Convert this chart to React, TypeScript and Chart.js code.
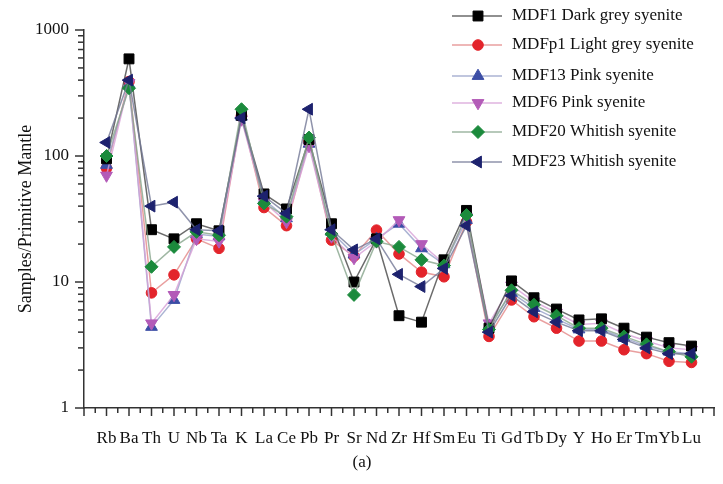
import { useEffect, useRef } from 'react';
import { Chart, registerables } from 'chart.js';

Chart.register(...registerables);

const categories = ['Rb', 'Ba', 'Th', 'U', 'Nb', 'Ta', 'K', 'La', 'Ce', 'Pb', 'Pr', 'Sr', 'Nd', 'Zr', 'Hf', 'Sm', 'Eu', 'Ti', 'Gd', 'Tb', 'Dy', 'Y', 'Ho', 'Er', 'Tm', 'Yb', 'Lu'];

const seriesNames = [
  'MDF1 Dark grey syenite',
  'MDFp1 Light grey syenite',
  'MDF13 Pink syenite',
  'MDF6 Pink syenite',
  'MDF20 Whitish syenite',
  'MDF23 Whitish syenite',
];

const mdf1 = [95, 590, 26, 22, 29, 25.5, 210, 50, 38, 135, 29, 10, 22, 5.4, 4.8, 15, 37, 4.3, 10.2, 7.5, 6.1, 5.0, 5.1, 4.3, 3.65, 3.3, 3.1];
const mdfp1 = [80, 390, 8.2, 11.4, 22, 18.5, 210, 39, 28, 130, 21.5, 16, 25.8, 16.7, 12, 11, 30, 3.7, 7.2, 5.3, 4.3, 3.4, 3.4, 2.9, 2.7, 2.35, 2.3];
const mdf13 = [85, 370, 4.4, 7.2, 24, 23, 205, 45, 32, 125, 25, 16.5, 22, 29, 18.5, 13.8, 31, 4.5, 8.2, 6.2, 5.1, 4.2, 4.2, 3.6, 3.1, 2.8, 2.7];
const mdf6 = [70, 380, 4.7, 7.9, 22, 21, 195, 43, 30, 120, 23, 15.5, 21, 31, 20, 14, 33, 4.7, 9.4, 7.0, 5.7, 4.6, 4.7, 3.9, 3.4, 3.0, 2.9];
const mdf20 = [100, 345, 13.2, 19, 25, 23.5, 235, 42, 33, 140, 24, 7.9, 21, 19, 15, 13.5, 34, 4.2, 8.6, 6.6, 5.4, 4.3, 4.3, 3.7, 3.2, 2.8, 2.55];
const mdf23 = [128, 400, 40, 43, 26, 25.5, 200, 48, 35, 235, 26, 18, 22, 11.5, 9.2, 12.8, 28, 4.0, 7.8, 5.8, 4.8, 4.1, 4.1, 3.5, 3.0, 2.7, 2.7];

const seriesValues = [mdf1, mdfp1, mdf13, mdf6, mdf20, mdf23];
const yTickLabels = [1, 10, 100, 1000];

const pointStyles = ['rect', 'circle', 'triangle', 'triangle', 'rectRot', 'triangle'];
const rotations = [0, 0, 0, 180, 0, 270];
const markerColors = ['#000000', '#e3242b', '#3c4ea6', '#b35bb8', '#1b8a3c', '#1d226e'];
const lineColors = [
  'rgba(70,70,70,0.8)',
  'rgba(228,135,135,0.8)',
  'rgba(150,160,200,0.8)',
  'rgba(215,160,215,0.8)',
  'rgba(135,165,140,0.8)',
  'rgba(115,120,150,0.8)',
];
const radii = [7, 5.3, 6.8, 6.8, 6.5, 6.8];
const drawOrder = [2, 5, 4, 3, 1, 0];
const legendRows = [16, 45, 76, 103, 132, 162];

const SERIF = '"Liberation Serif", "Times New Roman", serif';

function drawMarker(ctx: CanvasRenderingContext2D, style: string, x: number, y: number, r: number, rot: number, color: string) {
  ctx.save();
  ctx.fillStyle = color;
  ctx.strokeStyle = color;
  ctx.lineWidth = 1;
  ctx.beginPath();
  const rad = (rot * Math.PI) / 180;
  if (style === 'rect') {
    const s = Math.SQRT1_2 * r;
    ctx.rect(x - s, y - s, 2 * s, 2 * s);
  } else if (style === 'circle') {
    ctx.arc(x, y, r, 0, Math.PI * 2);
  } else if (style === 'rectRot') {
    ctx.moveTo(x, y - r);
    ctx.lineTo(x + r, y);
    ctx.lineTo(x, y + r);
    ctx.lineTo(x - r, y);
    ctx.closePath();
  } else {
    let a = rad;
    ctx.moveTo(x + Math.sin(a) * r, y - Math.cos(a) * r);
    a += (2 * Math.PI) / 3;
    ctx.lineTo(x + Math.sin(a) * r, y - Math.cos(a) * r);
    a += (2 * Math.PI) / 3;
    ctx.lineTo(x + Math.sin(a) * r, y - Math.cos(a) * r);
    ctx.closePath();
  }
  ctx.fill();
  ctx.stroke();
  ctx.restore();
}

const decorPlugin = {
  id: 'decor',
  afterDraw(chart: any) {
    const ctx: CanvasRenderingContext2D = chart.ctx;
    const xs = chart.scales.x;
    const ys = chart.scales.y;
    const area = chart.chartArea;
    ctx.save();
    ctx.strokeStyle = '#333';
    ctx.lineWidth = 1.5;
    // y ticks
    for (let d = 1; d <= 100; d *= 10) {
      for (let m = 1; m <= 9; m++) {
        const py = ys.getPixelForValue(d * m);
        const len = m === 1 ? 9 : 6;
        ctx.beginPath();
        ctx.moveTo(area.left - len, py);
        ctx.lineTo(area.left, py);
        ctx.stroke();
      }
    }
    const pTop = ys.getPixelForValue(1000);
    ctx.beginPath();
    ctx.moveTo(area.left - 9, pTop);
    ctx.lineTo(area.left, pTop);
    ctx.stroke();
    // x ticks
    for (let v = -1; v <= 27.001; v += 0.5) {
      const px = xs.getPixelForValue(v);
      const len = Number.isInteger(v) ? 8 : 5;
      ctx.beginPath();
      ctx.moveTo(px, area.bottom);
      ctx.lineTo(px, area.bottom + len);
      ctx.stroke();
    }
    // legend
    chart.data.datasets.forEach((ds: any, i: number) => {
      const ly = legendRows[i];
      ctx.strokeStyle = lineColors[i];
      ctx.lineWidth = 1.5;
      ctx.beginPath();
      ctx.moveTo(452, ly);
      ctx.lineTo(502, ly);
      ctx.stroke();
      drawMarker(ctx, pointStyles[i], 478, ly, radii[i], rotations[i], markerColors[i]);
      ctx.fillStyle = '#111';
      ctx.font = `17px ${SERIF}`;
      ctx.textAlign = 'left';
      ctx.textBaseline = 'middle';
      ctx.fillText(ds.label, 512, ly);
    });
    // caption
    ctx.fillStyle = '#111';
    ctx.font = `17px ${SERIF}`;
    ctx.textAlign = 'center';
    ctx.textBaseline = 'middle';
    ctx.fillText('(a)', 362, 463);
    ctx.restore();
  },
};

export default function App() {
  const ref = useRef<HTMLCanvasElement | null>(null);
  useEffect(() => {
    if (!ref.current) return;
    const chart = new Chart(ref.current, {
      type: 'line',
      data: {
        datasets: seriesValues.map((vals, i) => ({
          label: seriesNames[i],
          data: vals.map((v, j) => ({ x: j, y: v })),
          borderColor: lineColors[i],
          borderWidth: 1.5,
          backgroundColor: markerColors[i],
          pointBackgroundColor: markerColors[i],
          pointBorderColor: markerColors[i],
          pointBorderWidth: 1,
          pointStyle: pointStyles[i] as any,
          pointRotation: rotations[i],
          pointRadius: radii[i],
          tension: 0,
          fill: false,
          order: drawOrder[i],
        })),
      },
      options: {
        animation: false,
        responsive: false,
        devicePixelRatio: 1,
        layout: { padding: { top: 30, right: 9, left: 0, bottom: 0 } },
        plugins: {
          legend: { display: false },
          tooltip: { enabled: false },
          title: { display: false },
        },
        scales: {
          x: {
            type: 'linear',
            min: -1,
            max: 27,
            grid: { display: false, drawTicks: false },
            border: { display: true, color: '#333', width: 1.5 },
            afterBuildTicks: (s: any) => {
              s.ticks = categories.map((_, i) => ({ value: i }));
            },
            afterFit: (s: any) => {
              s.height = 76;
            },
            ticks: {
              autoSkip: false,
              maxRotation: 0,
              minRotation: 0,
              padding: 20,
              color: '#111',
              font: { family: SERIF, size: 17 },
              callback: (v: any) => categories[v] ?? '',
            },
          },
          y: {
            type: 'logarithmic',
            min: 1,
            max: 1000,
            grid: { display: false, drawTicks: false },
            border: { display: true, color: '#333', width: 1.5 },
            afterBuildTicks: (s: any) => {
              s.ticks = yTickLabels.map((v) => ({ value: v, major: true }));
            },
            afterFit: (s: any) => {
              s.width = 84;
            },
            ticks: {
              padding: 15,
              color: '#111',
              font: { family: SERIF, size: 17 },
              callback: (v: any) => String(v),
            },
            title: {
              display: true,
              text: 'Samples/Primitive Mantle',
              color: '#111',
              font: { family: SERIF, size: 18 },
              padding: { top: 15, bottom: 0 },
            },
          },
        },
      },
      plugins: [decorPlugin],
    });
    return () => chart.destroy();
  }, []);
  return (
    <div style={{ position: 'fixed', left: 0, top: 0, width: 723, height: 484, background: '#fff' }}>
      <canvas ref={ref} width={723} height={484} style={{ display: 'block' }} />
    </div>
  );
}
